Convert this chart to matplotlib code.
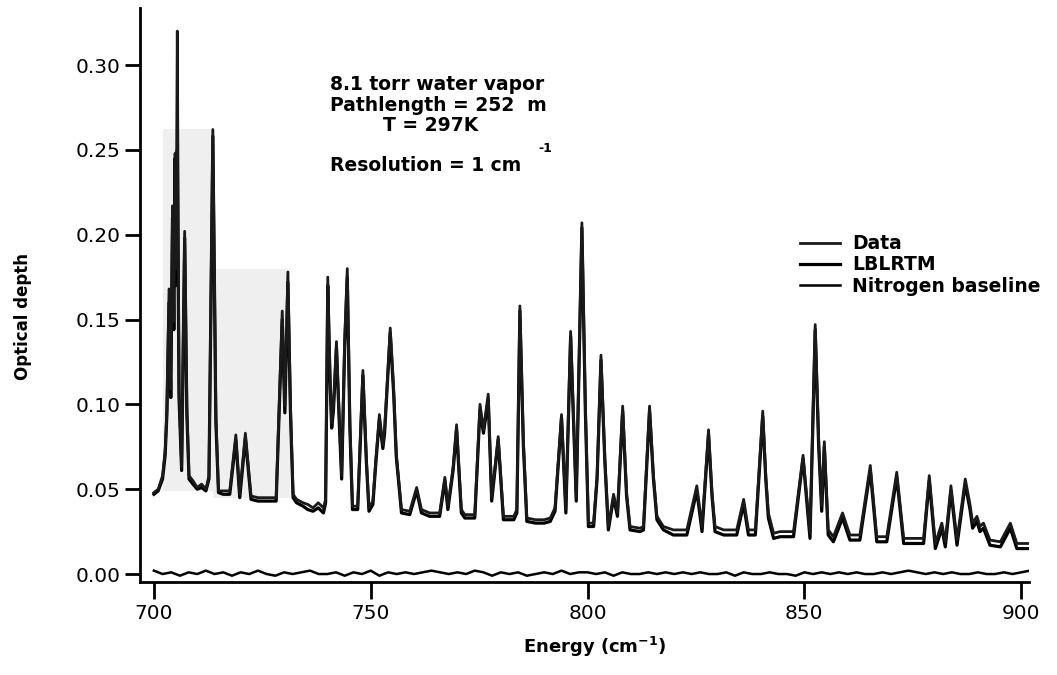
import matplotlib
matplotlib.use("Agg")
import matplotlib.pyplot as plt

plt.rcParams['font.family'] = ['DejaVu Sans']
plt.rcParams['mathtext.fontset'] = 'dejavusans'
plt.rcParams['mathtext.default'] = 'bf'

# spectrum vertices (cm-1)
energy = [700.0, 701.0, 702.0, 702.6, 703.0, 703.5, 703.9, 704.3, 704.6, 704.9,
          705.1, 705.4, 705.8, 706.4, 707.1, 707.6, 708.1, 709.0, 710.0, 711.0,
          712.0, 712.7, 713.6, 714.3, 714.9, 716.0, 717.5, 718.9, 719.8, 721.1,
          722.4, 724.0, 726.0, 728.2, 729.0, 729.6, 730.2, 730.9, 731.5, 732.1,
          732.9, 734.4, 735.5, 736.7, 737.9, 739.1, 739.6, 740.1, 740.6, 741.0,
          741.4, 742.1, 742.8, 743.3, 744.0, 744.6, 745.2, 745.8, 747.0, 748.2,
          749.0, 749.6, 750.5, 751.2, 752.0, 752.8, 753.2, 754.5, 755.3, 755.9,
          757.1, 759.0, 760.6, 761.7, 763.6, 765.9, 767.1, 767.8, 769.0, 769.8,
          770.9, 771.7, 774.0, 775.2, 776.0, 777.1, 777.9, 779.4, 780.6, 783.0,
          783.7, 784.4, 785.2, 786.0, 788.0, 790.0, 791.4, 792.5, 794.0, 795.0,
          796.1, 797.4, 798.7, 799.5, 800.2, 801.4, 802.2, 803.1, 804.0, 804.8,
          806.0, 806.9, 808.1, 809.0, 809.8, 812.1, 812.9, 814.3, 815.2, 816.0,
          817.5, 819.8, 822.9, 825.2, 826.4, 827.9, 828.7, 829.4, 831.4, 834.4,
          836.0, 837.1, 838.7, 840.4, 841.1, 841.7, 842.9, 844.4, 847.5, 849.7,
          851.3, 852.5, 853.3, 854.0, 854.6, 855.5, 856.7, 858.8, 860.5, 862.8,
          865.2, 866.7, 869.0, 871.3, 872.9, 875.2, 877.5, 878.8, 880.2, 881.7,
          882.5, 883.8, 885.2, 887.1, 888.2, 888.8, 889.8, 890.5, 891.3, 892.8,
          895.2, 897.5, 899.0, 901.7]

data_od = [0.048, 0.050, 0.058, 0.073, 0.097, 0.168, 0.109, 0.217, 0.149, 0.248,
           0.180, 0.320, 0.109, 0.063, 0.202, 0.099, 0.058, 0.055, 0.051, 0.053,
           0.050, 0.058, 0.262, 0.094, 0.049, 0.049, 0.049, 0.082, 0.047, 0.083,
           0.046, 0.045, 0.045, 0.045, 0.109, 0.155, 0.099, 0.178, 0.099, 0.047,
           0.044, 0.042, 0.041, 0.039, 0.042, 0.039, 0.044, 0.175, 0.119, 0.089,
           0.099, 0.137, 0.089, 0.058, 0.138, 0.180, 0.089, 0.040, 0.040, 0.120,
           0.068, 0.039, 0.043, 0.068, 0.094, 0.076, 0.085, 0.145, 0.109, 0.071,
           0.038, 0.037, 0.051, 0.038, 0.036, 0.036, 0.057, 0.040, 0.063, 0.088,
           0.038, 0.035, 0.035, 0.100, 0.085, 0.106, 0.045, 0.081, 0.034, 0.034,
           0.038, 0.158, 0.079, 0.033, 0.032, 0.032, 0.033, 0.039, 0.094, 0.038,
           0.143, 0.045, 0.207, 0.099, 0.030, 0.030, 0.058, 0.129, 0.068, 0.028,
           0.047, 0.036, 0.099, 0.048, 0.028, 0.027, 0.028, 0.099, 0.058, 0.034,
           0.028, 0.026, 0.026, 0.052, 0.028, 0.085, 0.048, 0.028, 0.026, 0.026,
           0.044, 0.026, 0.026, 0.096, 0.058, 0.036, 0.024, 0.025, 0.025, 0.070,
           0.024, 0.147, 0.079, 0.040, 0.078, 0.026, 0.022, 0.036, 0.023, 0.023,
           0.064, 0.022, 0.022, 0.060, 0.021, 0.021, 0.021, 0.058, 0.018, 0.030,
           0.019, 0.052, 0.020, 0.056, 0.041, 0.030, 0.034, 0.028, 0.030, 0.020,
           0.019, 0.030, 0.018, 0.018]

lblrtm_od = [0.047, 0.049, 0.056, 0.070, 0.094, 0.160, 0.104, 0.210, 0.144, 0.245,
             0.170, 0.250, 0.104, 0.061, 0.198, 0.095, 0.056, 0.053, 0.050, 0.051,
             0.049, 0.056, 0.258, 0.089, 0.048, 0.047, 0.047, 0.079, 0.045, 0.080,
             0.044, 0.043, 0.043, 0.043, 0.104, 0.150, 0.095, 0.172, 0.095, 0.045,
             0.042, 0.040, 0.038, 0.037, 0.039, 0.036, 0.042, 0.170, 0.115, 0.086,
             0.096, 0.133, 0.086, 0.056, 0.134, 0.175, 0.086, 0.038, 0.038, 0.117,
             0.066, 0.037, 0.041, 0.066, 0.091, 0.074, 0.083, 0.142, 0.106, 0.069,
             0.036, 0.035, 0.049, 0.036, 0.034, 0.034, 0.055, 0.038, 0.061, 0.085,
             0.036, 0.033, 0.033, 0.097, 0.083, 0.103, 0.043, 0.079, 0.032, 0.032,
             0.036, 0.155, 0.076, 0.031, 0.030, 0.030, 0.031, 0.037, 0.092, 0.036,
             0.140, 0.043, 0.204, 0.096, 0.028, 0.028, 0.056, 0.126, 0.066, 0.026,
             0.045, 0.034, 0.096, 0.046, 0.026, 0.025, 0.026, 0.096, 0.056, 0.032,
             0.026, 0.023, 0.023, 0.049, 0.025, 0.082, 0.046, 0.025, 0.023, 0.023,
             0.041, 0.023, 0.023, 0.093, 0.056, 0.033, 0.021, 0.022, 0.022, 0.068,
             0.021, 0.144, 0.075, 0.037, 0.075, 0.023, 0.019, 0.033, 0.020, 0.020,
             0.061, 0.019, 0.019, 0.057, 0.018, 0.018, 0.018, 0.055, 0.015, 0.027,
             0.016, 0.049, 0.017, 0.053, 0.038, 0.027, 0.031, 0.025, 0.027, 0.017,
             0.016, 0.027, 0.015, 0.015]

n2_energy = [700, 702, 704, 706, 708, 710, 712, 714, 716, 718, 720, 722, 724, 726,
             728, 730, 732, 734, 736, 738, 740, 742, 744, 746, 748, 750, 752, 754,
             756, 758, 760, 762, 764, 766, 768, 770, 772, 774, 776, 778, 780, 782,
             784, 786, 788, 790, 792, 794, 796, 798, 800, 802, 804, 806, 808, 810,
             812, 814, 816, 818, 820, 822, 824, 826, 828, 830, 832, 834, 836, 838,
             840, 842, 844, 846, 848, 850, 852, 854, 856, 858, 860, 862, 864, 866,
             868, 870, 872, 874, 876, 878, 880, 882, 884, 886, 888, 890, 892, 894,
             896, 898, 900, 902]
n2_od = [0.002, 0.000, 0.001, -0.001, 0.001, 0.000, 0.002, 0.000, 0.001, -0.001,
         0.001, 0.000, 0.002, 0.000, -0.001, 0.001, 0.000, 0.001, 0.002, 0.000,
         0.000, 0.001, -0.001, 0.001, 0.000, 0.002, -0.001, 0.001, 0.000, 0.001,
         0.000, 0.001, 0.002, 0.001, 0.000, 0.001, 0.000, 0.002, 0.001, -0.001,
         0.001, 0.000, 0.001, -0.001, 0.000, 0.001, 0.000, 0.002, 0.000, 0.001,
         0.001, 0.000, 0.001, -0.001, 0.001, 0.000, 0.000, 0.001, 0.000, 0.001,
         0.000, 0.001, 0.000, 0.001, 0.000, 0.000, 0.001, -0.001, 0.001, 0.000,
         0.000, 0.001, 0.000, 0.000, -0.001, 0.001, 0.000, 0.001, 0.000, 0.001,
         0.000, 0.001, 0.000, 0.000, 0.001, 0.000, 0.001, 0.002, 0.001, 0.000,
         0.001, 0.000, 0.001, 0.000, 0.000, 0.001, 0.000, 0.000, 0.001, 0.000,
         0.001, 0.002]

fig = plt.figure(figsize=(10.57, 6.75), dpi=100)
ax = fig.add_axes([140 / 1057, 93 / 675, 889 / 1057, 574 / 675])

# faint grey patches from the scanned original
ax.fill_between([702.1, 713.6], 0.049, 0.262, color="#efefef", lw=0, zorder=0)
ax.fill_between([713.6, 731.4], 0.045, 0.180, color="#efefef", lw=0, zorder=0)

ax.plot(energy, lblrtm_od, color="black", lw=2.3, label="LBLRTM")
ax.plot(energy, data_od, color="#1a1a1a", lw=2.0, label="Data")
ax.plot(n2_energy, n2_od, color="black", lw=1.8, label="Nitrogen baseline")

ax.set_xlim(696.8, 901.8)
ax.set_ylim(-0.0047, 0.3336)
ax.set_xticks([700, 750, 800, 850, 900])
ax.set_yticks([0.00, 0.05, 0.10, 0.15, 0.20, 0.25, 0.30])
ax.set_yticklabels(["0.00", "0.05", "0.10", "0.15", "0.20", "0.25", "0.30"])

for s in ["top", "right"]:
    ax.spines[s].set_visible(False)
for s in ["left", "bottom"]:
    ax.spines[s].set_linewidth(2)
ax.tick_params(axis="y", direction="out", length=11, width=2, labelsize=14.5, pad=3)
ax.tick_params(axis="x", direction="out", length=12, width=2, labelsize=14.5, pad=4)

ax.set_xlabel("Energy (cm$^{-1}$)", fontsize=13, fontweight="bold")
ax.xaxis.set_label_coords(0.512, -0.092)
ax.set_ylabel("Optical depth", fontsize=12, fontweight="bold")
ax.yaxis.set_label_coords(-0.1215, 0.463)

txt = dict(transform=ax.transAxes, fontsize=13.5, fontweight="bold", va="center")
ax.text(0.2137, 0.866, "8.1 torr water vapor", **txt)
ax.text(0.2137, 0.831, "Pathlength = 252  m", **txt)
ax.text(0.2734, 0.796, "T = 297K", **txt)
ax.text(0.2137, 0.726, "Resolution = 1 cm", **txt)
ax.text(0.448, 0.756, "-1", transform=ax.transAxes,
        fontsize=9, fontweight="bold", va="center")

h, l = ax.get_legend_handles_labels()
order = [1, 0, 2]
leg = ax.legend([h[i] for i in order], [l[i] for i in order],
                loc="upper left", bbox_to_anchor=(0.7424, 0.606), frameon=False,
                handlelength=2.13, labelspacing=0.12, handletextpad=0.64,
                borderpad=0, borderaxespad=0,
                prop={"weight": "bold", "size": 13.5})

fig.savefig("out.png", dpi=100)
